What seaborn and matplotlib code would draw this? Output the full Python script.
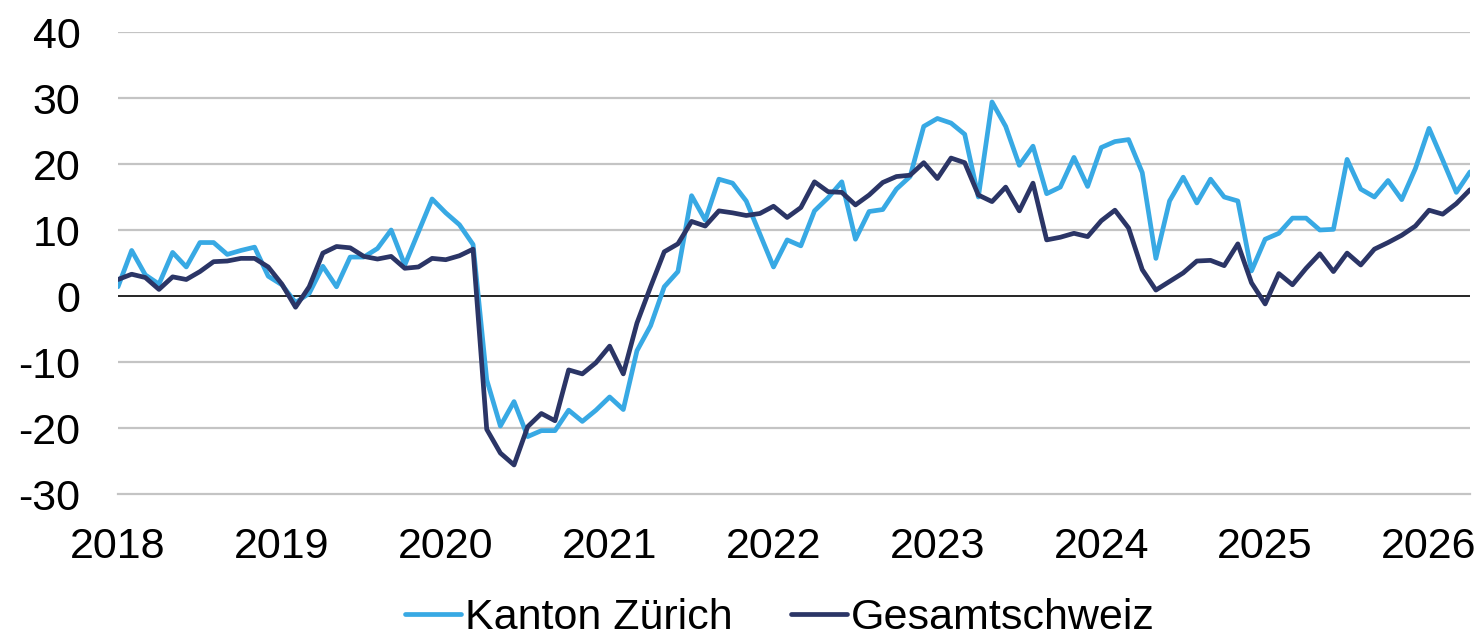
import numpy as np
import pandas as pd
import matplotlib
matplotlib.use("Agg")
import matplotlib.pyplot as plt
import seaborn as sns

# monthly values, Jan 2018 .. Apr 2026
months = pd.date_range("2018-01-01", periods=100, freq="MS")

zuerich = [
    1.4, 6.9, 3.2, 1.8, 6.6, 4.4, 8.1, 8.1, 6.3, 6.9, 7.4, 3.0,
    1.7, -1.0, 0.4, 4.5, 1.4, 5.9, 5.9, 7.2, 10.0, 4.7, 9.7, 14.7,
    12.6, 10.8, 7.8, -12.7, -19.7, -16.0, -21.3, -20.4, -20.4, -17.3, -19.0, -17.3,
    -15.3, -17.2, -8.3, -4.5, 1.4, 3.7, 15.2, 11.5, 17.7, 17.1, 14.4, 9.4,
    4.4, 8.5, 7.6, 12.9, 14.9, 17.3, 8.6, 12.8, 13.1, 16.2, 18.1, 25.7,
    26.9, 26.2, 24.5, 15.0, 29.4, 25.7, 19.8, 22.7, 15.5, 16.5, 21.0, 16.6,
    22.5, 23.4, 23.7, 18.7, 5.7, 14.4, 18.0, 14.1, 17.7, 15.0, 14.4, 3.8,
    8.6, 9.5, 11.8, 11.8, 10.0, 10.1, 20.7, 16.2, 15.0, 17.5, 14.6, 19.3,
    25.4, 20.6, 15.7, 18.8,
]

schweiz = [
    2.5, 3.3, 2.8, 1.0, 2.9, 2.5, 3.7, 5.2, 5.3, 5.7, 5.7, 4.4,
    1.8, -1.7, 1.4, 6.5, 7.5, 7.3, 6.0, 5.6, 6.0, 4.2, 4.4, 5.7,
    5.5, 6.1, 7.1, -20.2, -23.8, -25.6, -19.8, -17.8, -18.9, -11.2, -11.8, -10.1,
    -7.6, -11.8, -4.1, 1.4, 6.7, 7.9, 11.3, 10.6, 12.9, 12.6, 12.2, 12.5,
    13.6, 11.9, 13.4, 17.3, 15.8, 15.7, 13.8, 15.3, 17.2, 18.1, 18.3, 20.2,
    17.8, 20.9, 20.2, 15.3, 14.3, 16.5, 12.9, 17.1, 8.5, 8.9, 9.5, 9.0,
    11.4, 13.0, 10.3, 4.0, 0.9, 2.2, 3.5, 5.3, 5.4, 4.6, 7.9, 2.0,
    -1.2, 3.4, 1.7, 4.2, 6.4, 3.7, 6.5, 4.7, 7.1, 8.1, 9.2, 10.6,
    13.0, 12.4, 14.0, 16.1,
]

series_names = ["Kanton Zürich", "Gesamtschweiz"]
colors = ["#38a9e4", "#2b3566"]
y_ticks = [-30, -20, -10, 0, 10, 20, 30, 40]

sns.set_style("white")
plt.rcParams["font.family"] = ["Liberation Sans", "DejaVu Sans"]
plt.rcParams["text.color"] = "black"

pos = np.arange(len(months))
df = pd.DataFrame({
    "pos": np.concatenate([pos, pos]),
    "wert": zuerich + schweiz,
    "serie": [series_names[0]] * len(pos) + [series_names[1]] * len(pos),
})

fig = plt.figure(figsize=(14.81, 6.38), dpi=100)
ax = fig.add_axes([118 / 1481, 144 / 638, (1470 - 118) / 1481, (494 - 32) / 638])

for y in y_ticks[1:]:
    if y != 0:
        ax.axhline(y, color="#c4c4c4", lw=1.6, zorder=0)
ax.axhline(0, color="black", lw=1.2, zorder=1)

sns.lineplot(data=df, x="pos", y="wert", hue="serie", hue_order=series_names,
             palette=colors, linewidth=3.4, ax=ax, zorder=3)

ax.set_xlim(0, len(pos) - 1)
ax.set_ylim(-30, 40)
ax.set_yticks(y_ticks)
ax.set_yticklabels([str(v) for v in y_ticks])

year_pos = [i for i, m in enumerate(months) if m.month == 1]
ax.set_xticks(year_pos)
ax.set_xticklabels([str(months[i].year) for i in year_pos])
ax.set_xticks([i for i in range(0, len(pos), 3) if i not in year_pos] + [len(pos) - 1], minor=True)

ax.tick_params(axis="y", length=0, pad=27, labelsize=31, colors="black")
ax.tick_params(axis="x", which="major", length=10, width=1.6, color="#c4c4c4",
               pad=14, labelsize=31, labelcolor="black")
ax.tick_params(axis="x", which="minor", length=7, width=1.6, color="#c4c4c4")

for side in ["top", "right", "left"]:
    ax.spines[side].set_visible(False)
ax.spines["bottom"].set_color("#c4c4c4")
ax.spines["bottom"].set_linewidth(1.6)

ax.set_xlabel("")
ax.set_ylabel("")

handles, labels = ax.get_legend_handles_labels()
ax.get_legend().remove()
leg = fig.legend(handles, labels, loc="center", bbox_to_anchor=(780 / 1481, 1 - 618 / 638),
                 ncol=2, frameon=False, fontsize=31, handlelength=1.3, handletextpad=0.1,
                 columnspacing=1.35, borderpad=0, borderaxespad=0)
for t in leg.get_texts():
    t.set_color("black")

fig.savefig("out.png", dpi=100)
plt.close(fig)
